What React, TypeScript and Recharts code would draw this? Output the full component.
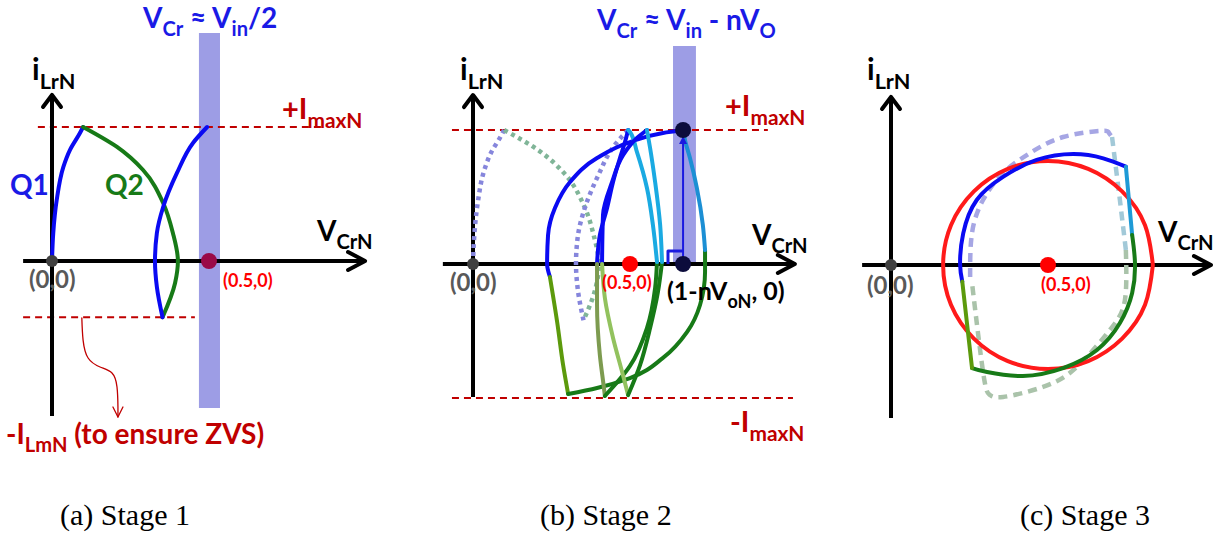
import React from "react";
import {
  Line,
  LineChart,
  ReferenceArea,
  ReferenceDot,
  ReferenceLine,
  XAxis,
  YAxis,
} from "recharts";

// pixels per normalised unit (V_CrN across, i_LrN up)
const SX = 314;
const SY = 134;
const H = 533;

type Pt = { x: number; y: number };
const pts = (a: number[][]): Pt[] => a.map(([x, y]) => ({ x, y }));

// normalised levels
const I_MAX = 1;
const I_LMN = -0.42;
const V_HALF = 0.5;
const V_CLAMP = 0.669; // 1 - nV_oN

// ---- stage 1 trajectories
const q1Path = pts([[0, 0], [0.004, 0.209], [0.015, 0.455], [0.036, 0.701], [0.057, 0.828], [0.089, 0.955], [0.099, 1]]);
const q2Path = pts([[0.099, 1], [0.207, 0.851], [0.29, 0.679], [0.354, 0.433], [0.385, 0.209], [0.401, 0], [0.392, -0.164], [0.352, -0.42]]);
const q1Return = pts([[0.494, 1], [0.449, 0.881], [0.398, 0.657], [0.354, 0.403], [0.334, 0.209], [0.328, 0], [0.334, -0.194], [0.352, -0.42]]);
const zvsPointer = pts([[0.095, -0.425], [0.099, -0.59], [0.115, -0.724], [0.153, -0.791], [0.191, -0.836], [0.207, -0.94], [0.21, -1.09], [0.21, -1.164]]);

// ---- stage 2 trajectories (outer, middle, inner loops)
const outerBlue = pts([[0.669, 1], [0.605, 0.978], [0.5, 0.91], [0.395, 0.791], [0.309, 0.612], [0.261, 0.418], [0.239, 0.216], [0.236, 0], [0.245, -0.097]]);
const outerOlive = pts([[0.245, -0.097], [0.268, -0.433], [0.287, -0.754], [0.303, -0.97]]);
const outerGreen = pts([[0.303, -0.97], [0.395, -0.925], [0.5, -0.851], [0.605, -0.701], [0.682, -0.507], [0.723, -0.306], [0.739, -0.06], [0.739, 0.104]]);
const outerCyan = pts([[0.739, 0.104], [0.732, 0.291], [0.713, 0.567], [0.691, 0.791], [0.675, 0.925], [0.669, 1]]);

const midBlue = pts([[0.494, 1], [0.484, 0.91], [0.468, 0.791], [0.446, 0.612], [0.427, 0.418], [0.404, 0.216], [0.395, 0]]);
const midOlive = pts([[0.395, 0], [0.395, -0.306], [0.404, -0.679], [0.417, -0.925], [0.42, -0.985]]);
const midGreen = pts([[0.42, -0.985], [0.5, -0.761], [0.554, -0.478], [0.58, -0.179], [0.586, 0.015]]);
const midCyan = pts([[0.586, 0.015], [0.573, 0.291], [0.554, 0.567], [0.522, 0.836], [0.5, 0.985], [0.494, 1]]);

const innerBlue = pts([[0.554, 1], [0.522, 0.94], [0.478, 0.813], [0.443, 0.612], [0.414, 0.366], [0.411, 0.015]]);
const innerOlive = pts([[0.411, 0], [0.42, -0.254], [0.446, -0.552], [0.475, -0.806], [0.494, -0.978]]);
const innerGreen = pts([[0.494, -0.978], [0.532, -0.754], [0.564, -0.478], [0.589, -0.209], [0.602, 0.015]]);
const innerCyan = pts([[0.602, 0.015], [0.596, 0.291], [0.58, 0.612], [0.564, 0.866], [0.554, 1]]);

const clampJump = pts([[V_CLAMP, 0], [V_CLAMP, 0.955]]);
const clampBracket = pts([[0.621, 0], [0.621, 0.097], [V_CLAMP, 0.097]]);

// ---- stage 3 trajectories
const resonantCircle = pts([
  [0.834, 0], [0.809, 0.297], [0.736, 0.549], [0.628, 0.717], [0.5, 0.776], [0.372, 0.717], [0.264, 0.549], [0.191, 0.297],
  [0.166, 0], [0.191, -0.297], [0.264, -0.549], [0.372, -0.717], [0.5, -0.776], [0.628, -0.717], [0.736, -0.549], [0.809, -0.297], [0.834, 0],
]);
const s3Blue = pts([[0.227, -0.124], [0.22, 0.005], [0.23, 0.236], [0.273, 0.485], [0.358, 0.659], [0.464, 0.784], [0.581, 0.828], [0.676, 0.796], [0.748, 0.734]]);
const s3Cyan = pts([[0.748, 0.734], [0.768, 0.224]]);
const s3Green = pts([[0.768, 0.224], [0.777, 0.015], [0.768, -0.209], [0.729, -0.433], [0.656, -0.634], [0.548, -0.769], [0.42, -0.828], [0.306, -0.799], [0.258, -0.769]]);
const s3Olive = pts([[0.258, -0.769], [0.227, -0.124]]);

const s3GhostBlue = pts([[0.252, -0.09], [0.258, 0.239], [0.293, 0.485], [0.357, 0.687], [0.443, 0.836], [0.548, 0.955], [0.666, 1], [0.693, 0.99], [0.704, 0.955]]);
const s3GhostCyan = pts([[0.704, 0.955], [0.729, 0.485], [0.748, 0.112]]);
const s3GhostGreen = pts([[0.748, 0.112], [0.745, -0.261], [0.697, -0.485], [0.592, -0.761], [0.484, -0.91], [0.357, -0.985], [0.315, -0.97], [0.299, -0.881], [0.277, -0.507], [0.258, -0.134]]);

// axes extents per panel
const axesA = { x: pts([[-0.092, 0], [0.997, 0]]), y: pts([[0, -1.157], [0, 1.239]]) };
const axesB = { x: pts([[-0.096, 0], [1.025, 0]]), y: pts([[0, -0.993], [0, 1.261]]) };
const axesC = { x: pts([[-0.092, 0], [1.019, 0]]), y: pts([[0, -1.142], [0, 1.254]]) };

const BLUE = "#0a0af2";
const GREEN = "#177a17";
const OLIVE = "#5c9a0c";
const DULL_OLIVE = "#7d9b50";
const LIGHT_OLIVE = "#92c25e";
const CYAN = "#1aaae2";
const DARK_RED = "#c00000";
const BAND = "#3c3ccc";

const FONT = "Lato, 'Open Sans', sans-serif";

type Tip = "right" | "up" | "down" | "upFilled";

function tipDot(last: number, tip: Tip, color: string, w: number) {
  return (p: any) => {
    const { cx, cy, index } = p;
    if (index !== last) return <g key={index} />;
    let d = "";
    if (tip === "right") d = `M${cx - 17},${cy - 9}L${cx},${cy}L${cx - 17},${cy + 9}`;
    if (tip === "up") d = `M${cx - 9},${cy + 12}L${cx},${cy}L${cx + 9},${cy + 12}`;
    if (tip === "down") d = `M${cx - 5},${cy - 10}L${cx},${cy}L${cx + 5},${cy - 10}`;
    if (tip === "upFilled")
      return <path key={index} d={`M${cx - 4},${cy + 8}L${cx},${cy}L${cx + 4},${cy + 8}Z`} fill={color} />;
    return <path key={index} d={d} fill="none" stroke={color} strokeWidth={w} strokeLinecap="round" strokeLinejoin="round" />;
  };
}

function seg(key: string, data: Pt[], stroke: string, opts: any = {}) {
  return (
    <Line
      key={key}
      data={data}
      dataKey="y"
      type={opts.type ?? "natural"}
      stroke={stroke}
      strokeWidth={opts.width ?? 4}
      strokeDasharray={opts.dash}
      strokeLinecap={opts.cap ?? "round"}
      strokeLinejoin="round"
      dot={opts.dot ?? false}
      activeDot={false}
      isAnimationActive={false}
    />
  );
}

function axes(a: { x: Pt[]; y: Pt[] }) {
  return [
    seg("ax", a.x, "#000", { type: "linear", width: 4, cap: "butt", dot: tipDot(1, "right", "#000", 4) }),
    seg("ay", a.y, "#000", { type: "linear", width: 4, cap: "butt", dot: tipDot(1, "up", "#000", 4) }),
  ];
}

function dashedLevel(key: string, x1: number, x2: number, y: number) {
  return (
    <ReferenceLine
      key={key}
      segment={[{ x: x1, y }, { x: x2, y }]}
      stroke={DARK_RED}
      strokeWidth={2}
      strokeDasharray="7 5"
      ifOverflow="visible"
    />
  );
}

function dot(key: string, x: number, y: number, r: number, fill: string) {
  return <ReferenceDot key={key} x={x} y={y} r={r} fill={fill} stroke="none" ifOverflow="visible" />;
}

function Panel({ left, width, ox, oy, children }: { left: number; width: number; ox: number; oy: number; children: React.ReactNode }) {
  const xDomain = [(left - ox) / SX, (left + width - ox) / SX];
  const yDomain = [-(H - oy) / SY, oy / SY];
  return (
    <div style={{ position: "absolute", left, top: 0 }}>
      <LineChart width={width} height={H} margin={{ top: 0, right: 0, bottom: 0, left: 0 }}>
        <XAxis type="number" dataKey="x" domain={xDomain} hide allowDataOverflow />
        <YAxis type="number" dataKey="y" domain={yDomain} hide allowDataOverflow />
        {children}
      </LineChart>
    </div>
  );
}

// text with subscripts: [text, isSub]
type Part = [string, boolean?];
function Label({ x, y, size, fill, parts, weight = 700 }: { x: number; y: number; size: number; fill: string; parts: Part[]; weight?: number }) {
  const shift = size * 0.3;
  let inSub = false;
  return (
    <text x={x} y={y} fontSize={size} fill={fill} fontFamily={FONT} fontWeight={weight}>
      {parts.map(([t, sub], i) => {
        let dy = 0;
        if (sub && !inSub) dy = shift;
        if (!sub && inSub) dy = -shift;
        inSub = !!sub;
        return (
          <tspan key={i} dy={dy} fontSize={sub ? size * 0.72 : size}>
            {t}
          </tspan>
        );
      })}
    </text>
  );
}

const captions = ["(a) Stage 1", "(b) Stage 2", "(c) Stage 3"];
const captionX = [60, 540, 1020];

export default function App() {
  return (
    <div style={{ position: "relative", width: 1213, height: H, background: "#fff", overflow: "hidden" }}>
      <style>{"body{margin:0}"}</style>

      <Panel left={0} width={415} ox={52} oy={261}>
        {dashedLevel("imax", -0.045, 0.869, I_MAX)}
        {dashedLevel("ilm", -0.092, 0.455, I_LMN)}
        {axes(axesA)}
        <ReferenceArea x1={0.468} x2={0.535} y1={-1.097} y2={1.701} fill={BAND} fillOpacity={0.5} stroke="none" ifOverflow="visible" />
        {seg("q1", q1Path, BLUE, { type: "monotoneY" })}
        {seg("q2", q2Path, GREEN, { type: "monotoneY" })}
        {seg("q1r", q1Return, BLUE, { type: "monotoneY" })}
        {seg("zvs", zvsPointer, DARK_RED, { width: 1.3, dot: tipDot(zvsPointer.length - 1, "down", DARK_RED, 1.3) })}
        {dot("o", 0, 0, 6, "#404040")}
        {dot("half", V_HALF, 0, 8, "#9a0a48")}
      </Panel>

      <Panel left={415} width={410} ox={473} oy={264}>
        {dashedLevel("imax", -0.067, 0.939, I_MAX)}
        {dashedLevel("imin", -0.067, 1.019, -I_MAX)}
        {axes(axesB)}
        <ReferenceArea x1={0.637} x2={0.71} y1={0} y2={1.627} fill={BAND} fillOpacity={0.5} stroke="none" ifOverflow="visible" />
        {seg("g1", q1Path, "#8686dc", { type: "monotoneY", dash: "4 4", width: 4.5, cap: "butt" })}
        {seg("g2", q2Path, "#80b598", { type: "monotoneY", dash: "4 4", width: 4.5, cap: "butt" })}
        {seg("g3", q1Return, "#8686dc", { type: "monotoneY", dash: "4 4", width: 4.5, cap: "butt" })}
        {seg("ob", outerBlue, BLUE, { type: "monotoneY" })}
        {seg("oo", outerOlive, OLIVE, { type: "monotoneY" })}
        {seg("og", outerGreen, GREEN, { type: "monotoneY" })}
        {seg("oc", outerCyan, "#1c8fd4", { type: "monotoneY" })}
        {seg("mb", midBlue, BLUE, { type: "monotoneY" })}
        {seg("mo", midOlive, DULL_OLIVE, { type: "monotoneY" })}
        {seg("mg", midGreen, GREEN, { type: "monotoneY" })}
        {seg("mc", midCyan, CYAN, { type: "monotoneY" })}
        {seg("ib", innerBlue, BLUE, { type: "monotoneY" })}
        {seg("io", innerOlive, LIGHT_OLIVE, { type: "monotoneY" })}
        {seg("ig", innerGreen, GREEN, { type: "monotoneY" })}
        {seg("ic", innerCyan, CYAN, { type: "monotoneY" })}
        {seg("jump", clampJump, "#1a1ae0", { type: "linear", width: 2, dot: tipDot(1, "upFilled", "#1a1ae0", 2) })}
        {seg("bracket", clampBracket, "#1a1ae0", { type: "linear", width: 3, cap: "butt" })}
        {dot("o", 0, 0, 6, "#404040")}
        {dot("half", V_HALF, 0, 8, "#ff0000")}
        {dot("clamp", V_CLAMP, 0, 8, "#0c0c3c")}
        {dot("peak", V_CLAMP, I_MAX, 8, "#0c0c3c")}
      </Panel>

      <Panel left={825} width={388} ox={891} oy={265}>
        {axes(axesC)}
        {seg("gb", s3GhostBlue, "#a6a6e4", { dash: "9 6", width: 4.5, cap: "butt" })}
        {seg("gc", s3GhostCyan, "#a2c9d8", { type: "linear", dash: "9 6", width: 4.5, cap: "butt" })}
        {seg("gg", s3GhostGreen, "#aac3aa", { dash: "9 6", width: 4.5, cap: "butt" })}
        {seg("circle", resonantCircle, "#ff1a1a")}
        {seg("b", s3Blue, BLUE)}
        {seg("c", s3Cyan, "#1e9ad6", { type: "linear" })}
        {seg("g", s3Green, GREEN)}
        {seg("ol", s3Olive, OLIVE, { type: "linear" })}
        {dot("o", 0, 0, 6, "#404040")}
        {dot("half", V_HALF, 0, 8, "#ff0000")}
      </Panel>

      <svg width={1213} height={H} style={{ position: "absolute", left: 0, top: 0, pointerEvents: "none" }}>
        {/* stage 1 */}
        <Label x={143} y={28} size={28} fill="#1a1ae6" parts={[["V"], ["Cr", true], [" ≈ V"], ["in", true], ["/2"]]} />
        <Label x={32} y={80} size={30} fill="#000" parts={[["i"], ["LrN", true]]} />
        <Label x={282} y={119} size={29} fill={DARK_RED} parts={[["+I"], ["maxN", true]]} />
        <Label x={317} y={241} size={28} fill="#000" parts={[["V"], ["CrN", true]]} />
        <Label x={10} y={195} size={28} fill="#1a1ae6" parts={[["Q1"]]} />
        <Label x={105} y={195} size={28} fill={GREEN} parts={[["Q2"]]} />
        <Label x={29} y={288} size={24} fill="#595959" parts={[["(0,0)"]]} />
        <Label x={223} y={287} size={18} fill="#ff0000" parts={[["(0.5,0)"]]} />
        <Label x={6} y={444} size={28} fill={DARK_RED} parts={[["-I"], ["LmN", true], [" (to ensure ZVS)"]]} />

        {/* stage 2 */}
        <Label x={597} y={30} size={28} fill="#1a1ae6" parts={[["V"], ["Cr", true], [" ≈ V"], ["in", true], [" - nV"], ["O", true]]} />
        <Label x={460} y={80} size={30} fill="#000" parts={[["i"], ["LrN", true]]} />
        <Label x={725} y={116} size={29} fill={DARK_RED} parts={[["+I"], ["maxN", true]]} />
        <Label x={730} y={432} size={29} fill={DARK_RED} parts={[["-I"], ["maxN", true]]} />
        <Label x={752} y={245} size={28} fill="#000" parts={[["V"], ["CrN", true]]} />
        <Label x={450} y={291} size={24} fill="#595959" parts={[["(0,0)"]]} />
        <Label x={602} y={289} size={18} fill="#ff0000" parts={[["(0.5,0)"]]} />
        <Label x={667} y={300} size={25} fill="#000" parts={[["(1-nV"], ["oN", true], [", 0)"]]} />

        {/* stage 3 */}
        <Label x={867} y={80} size={30} fill="#000" parts={[["i"], ["LrN", true]]} />
        <Label x={1158} y={242} size={28} fill="#000" parts={[["V"], ["CrN", true]]} />
        <Label x={867} y={294} size={24} fill="#595959" parts={[["(0,0)"]]} />
        <Label x={1041} y={291} size={18} fill="#ff0000" parts={[["(0.5,0)"]]} />

        {captions.map((c, i) => (
          <text key={c} x={captionX[i]} y={525} fontSize={30} fontFamily="'Liberation Serif', 'Times New Roman', serif" fill="#000">
            {c}
          </text>
        ))}
      </svg>
    </div>
  );
}
